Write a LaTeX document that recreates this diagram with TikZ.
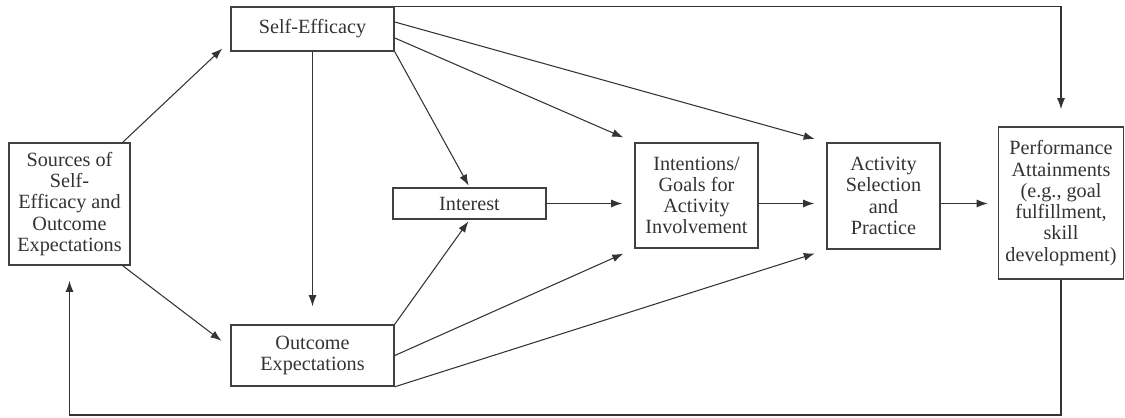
\documentclass[tikz,border=0pt]{standalone}
\usepackage{fontspec}
\setmainfont{Liberation Serif}
\usetikzlibrary{arrows.meta}

\begin{document}
\begin{tikzpicture}[x=0.02cm, y=-0.02cm,
        box/.style={draw=black!75, line width=0.9pt, align=center, text=black!80,
            font=\rmfamily\fontsize{11.5}{12.1}\selectfont, inner sep=1pt},
        link/.style={draw=black!80, line width=0.6pt, -{Latex[length=2.2mm,width=1.6mm]}, shorten >=0.24cm}]
        \useasboundingbox (0,0) rectangle (1125,418);

        \node[box, minimum width=2.42cm, minimum height=2.44cm] (sources) at (69.5,204) {Sources of\\Self-\\Efficacy and\\Outcome\\Expectations};
        \node[box, minimum width=3.26cm, minimum height=0.88cm] (selfeff) at (312.5,29) {Self-Efficacy};
        \node[box, minimum width=3.26cm, minimum height=1.22cm] (outcome) at (312.5,355.5) {Outcome\\Expectations};
        \node[box, minimum width=3.06cm, minimum height=0.62cm] (interest) at (469.5,203.5) {Interest};
        \node[box, minimum width=2.46cm, minimum height=2.1cm] (goals) at (696.5,195.5) {Intentions/\\Goals for\\Activity\\Involvement};
        \node[box, minimum width=2.26cm, minimum height=2.12cm] (activity) at (883.5,196) {Activity\\Selection\\and\\Practice};
        \node[box, minimum width=2.5cm, minimum height=3.04cm] (perform) at (1061,203) {Performance\\Attainments\\(e.g., goal\\fulfillment,\\skill\\development)};

        \coordinate (back) at (69.5,415);

        \draw[link, shorten >=0.22cm] ([xshift=-0.16cm]sources.north east) -- ([yshift=-0.24cm]selfeff.west);
        \draw[link, shorten >=0.22cm] ([xshift=-0.16cm]sources.south east) -- ([yshift=0.16cm]outcome.west);
        \draw[link, shorten >=0.36cm] (selfeff.south) -- (outcome.north);

        \draw[link, shorten >=0.04cm] (selfeff.south east) -- (interest.north);
        \draw[link, shorten >=0.04cm] (outcome.north east) -- (interest.south);

        \draw[link] ([yshift=-0.18cm]selfeff.east) -- (goals.north west);
        \draw[link] ([yshift=0.14cm]selfeff.east) -- (activity.north west);
        \draw[link] (outcome.east) -- (goals.south west);
        \draw[link] (outcome.south east) -- (activity.south west);

        % main row
        \draw[link] (interest.east) -- (interest.east -| goals.west);
        \draw[link] (interest.east -| goals.east) -- (interest.east -| activity.west);
        \draw[link, shorten >=0.2cm] (interest.east -| activity.east) -- (interest.east -| perform.west);

        \draw[link, shorten >=0.34cm] (selfeff.north east) -| (perform.north);
        \draw[link, shorten >=0.3cm] (perform.south) |- (back) -- (sources.south);
    \end{tikzpicture}
\end{document}
